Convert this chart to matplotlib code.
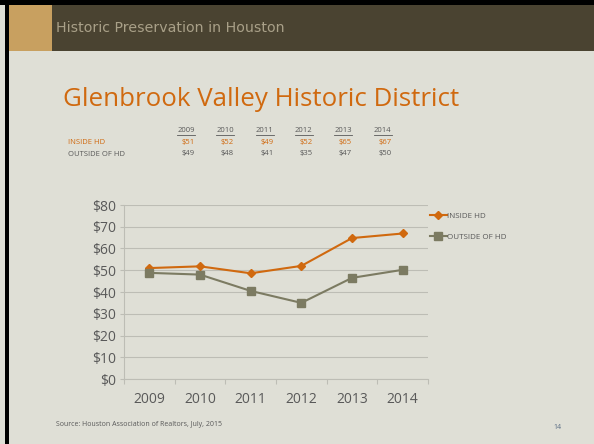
import matplotlib
matplotlib.use("Agg")
import matplotlib.pyplot as plt
from matplotlib.patches import Rectangle
from matplotlib.ticker import FixedLocator, FuncFormatter

years = ["2009", "2010", "2011", "2012", "2013", "2014"]
inside_hd = [51.0, 51.8, 48.6, 52.0, 64.8, 66.9]
outside_hd = [48.8, 48.0, 40.5, 35.0, 46.5, 50.2]
inside_labels = ["$51", "$52", "$49", "$52", "$65", "$67"]
outside_labels = ["$49", "$48", "$41", "$35", "$47", "$50"]
yticks = [0, 10, 20, 30, 40, 50, 60, 70, 80]

W, H = 594, 444
BG = "#dfdfd6"
ORANGE = "#d0690f"
OLIVE = "#7c7b62"
GRID = "#bdbdb5"
TXT = "#595959"

fig = plt.figure(figsize=(W / 100, H / 100), dpi=100)
fig.patch.set_facecolor(BG)

def px(x, y, w, h, color):
    fig.patches.append(Rectangle((x / W, 1 - (y + h) / H), w / W, h / H,
                                 transform=fig.transFigure, color=color, lw=0, zorder=0))

# frame and header
px(0, 0, W, 5, "#000000")
px(5, 0, 4, H, "#000000")
px(9, 5, W - 9, 46, "#4a4331")
px(9, 5, 43, 46, "#c8a060")

def ftext(x, y, s, **kw):
    fig.text(x / W, 1 - y / H, s, **kw)

ftext(56, 28, "Historic Preservation in Houston", fontsize=10.2, color="#a9a088",
      va="center", ha="left", family="DejaVu Sans")
ftext(63, 100, "Glenbrook Valley Historic District", fontsize=18.6, color=ORANGE,
      va="center", ha="left", family="Open Sans")

# small table
col_x = [195, 234, 273.5, 312.5, 352, 391.5]
fs_t = 5.5
for i, yr in enumerate(years):
    ftext(col_x[i], 131, yr, fontsize=fs_t, color=TXT, ha="right", va="center",
          family="Open Sans")
    fig.lines.append(plt.Line2D([(col_x[i] - 18) / W, col_x[i] / W],
                                [1 - 135.5 / H, 1 - 135.5 / H], transform=fig.transFigure,
                                color=TXT, lw=0.6))
    ftext(col_x[i], 142, inside_labels[i], fontsize=fs_t, color=ORANGE, ha="right",
          va="center", family="Open Sans")
    ftext(col_x[i], 154, outside_labels[i], fontsize=fs_t, color=TXT, ha="right",
          va="center", family="Open Sans")
ftext(67.5, 142, "INSIDE HD", fontsize=fs_t, color=ORANGE, ha="left", va="center",
      family="Open Sans")
ftext(67.5, 154, "OUTSIDE OF HD", fontsize=fs_t, color=TXT, ha="left", va="center",
      family="Open Sans")

# chart
ax = fig.add_axes([124 / W, 1 - 379 / H, (428 - 124) / W, (379 - 205) / H])
ax.set_facecolor(BG)
x = list(range(len(years)))
l1, = ax.plot(x, inside_hd, color=ORANGE, lw=1.5, marker="D", ms=4.0,
              label="INSIDE HD", zorder=3)
l2, = ax.plot(x, outside_hd, color=OLIVE, lw=1.5, marker="s", ms=5.5,
              label="OUTSIDE OF HD", zorder=3)
ax.set_xlim(-0.5, 5.5)
ax.set_ylim(0, 80)
ax.set_yticks(yticks)
ax.yaxis.set_major_formatter(FuncFormatter(lambda v, p: f"${int(v)}"))
ax.set_xticks(x)
ax.set_xticklabels(years)
ax.xaxis.set_minor_locator(FixedLocator([i - 0.5 for i in range(7)]))
ax.tick_params(axis="x", which="major", length=0, pad=9, labelsize=10, labelcolor=TXT)
ax.tick_params(axis="x", which="minor", length=3.5, color=GRID, width=0.8)
ax.tick_params(axis="y", length=3, color=GRID, width=0.8, labelsize=10,
               labelcolor=TXT, pad=3)
for lbl in ax.get_xticklabels() + ax.get_yticklabels():
    lbl.set_family("Open Sans")
ax.grid(axis="y", color=GRID, lw=0.8, zorder=0)
for s in ["top", "right"]:
    ax.spines[s].set_visible(False)
for s in ["left", "bottom"]:
    ax.spines[s].set_color(GRID)
    ax.spines[s].set_linewidth(0.8)

leg = fig.legend(handles=[l1, l2], loc="upper left",
                 bbox_to_anchor=(428 / W, 1 - 209.5 / H), frameon=False,
                 prop={"family": "Open Sans", "size": 5.8}, labelcolor=TXT,
                 handlelength=2.0, handletextpad=0.1, labelspacing=1.7,
                 borderaxespad=0, borderpad=0.3)

ftext(56, 424, "Source: Houston Association of Realtors, July, 2015", fontsize=5.0,
      color=TXT, ha="left", va="center", family="Open Sans")
ftext(557, 427, "14", fontsize=5, color="#5b6e84", ha="center", va="center",
      family="Open Sans")

fig.savefig("out.png", dpi=100, facecolor=BG)
